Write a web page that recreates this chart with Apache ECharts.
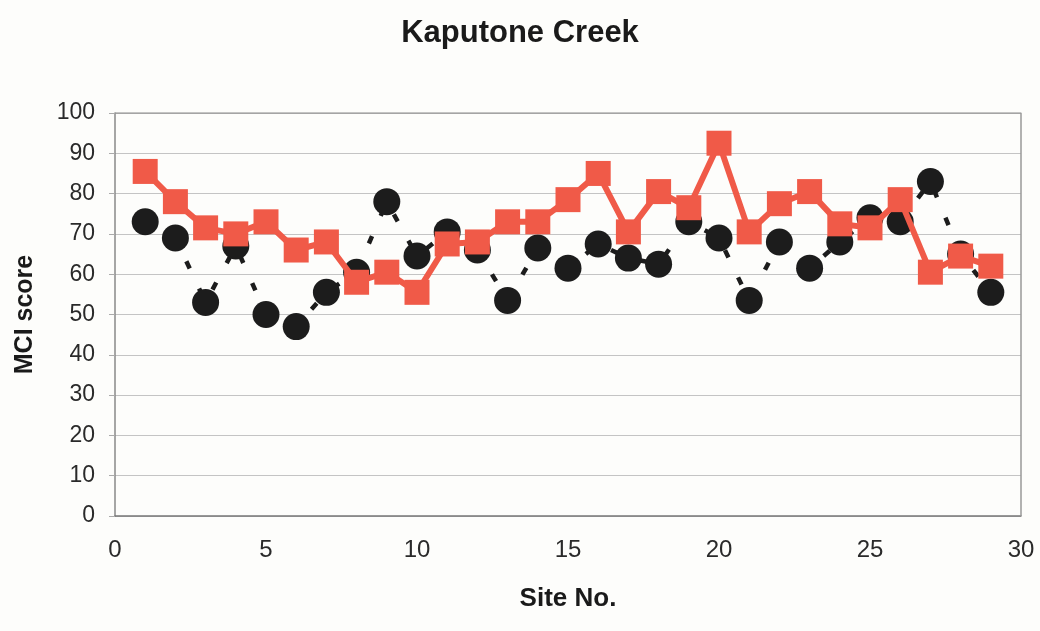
<!DOCTYPE html>
<html>
<head>
<meta charset="utf-8">
<title>Kaputone Creek</title>
<script src="https://cdn.jsdelivr.net/npm/echarts@6/dist/echarts.min.js"></script>
<style>
  html, body { margin: 0; padding: 0; background: #fdfdfb; }
  #chart { width: 1040px; height: 631px; }
</style>
</head>
<body>
<div id="chart"></div>
<script>
// Site numbers along the x axis
const sites = [1, 2, 3, 4, 5, 6, 7, 8, 9, 10, 11, 12, 13, 14, 15, 16, 17, 18, 19, 20, 21, 22, 23, 24, 25, 26, 27, 28, 29];
// MCI scores, black circle series (dashed)
const mciBlack = [73, 69, 53, 67, 50, 47, 55.5, 60.5, 78, 64.5, 70.5, 66, 53.5, 66.5, 61.5, 67.5, 64, 62.5, 73, 69, 53.5, 68, 61.5, 68, 74, 73, 83, 65, 55.5];
// MCI scores, red square series (solid)
const mciRed = [85.5, 78, 71.5, 70, 73, 66, 68, 58, 60.5, 55.5, 67.5, 68, 73, 73, 78.5, 85, 70.5, 80.5, 76.5, 92.5, 70.5, 77.5, 80.5, 72.5, 71.5, 78.5, 60.5, 64.5, 62];
// Axis tick settings
const xTicks = { min: 0, max: 30, interval: 5 };
const yTicks = { min: 0, max: 100, interval: 10 };

const pair = (vals) => sites.map((s, i) => [s, vals[i]]);
const font = '"Liberation Sans", Arial, sans-serif';

const chart = echarts.init(document.getElementById('chart'), null, { renderer: 'canvas' });
chart.setOption({
  backgroundColor: '#fdfdfb',
  animation: false,
  title: {
    text: 'Kaputone Creek',
    left: 'center',
    top: 13,
    textStyle: { fontFamily: font, fontSize: 31, fontWeight: 'bold', color: '#1a1a1a' }
  },
  grid: { left: 115, right: 19, top: 113, bottom: 115 },
  xAxis: {
    type: 'value',
    min: xTicks.min, max: xTicks.max, interval: xTicks.interval,
    name: 'Site No.',
    nameLocation: 'middle',
    nameGap: 70,
    nameTextStyle: { fontFamily: font, fontSize: 26, fontWeight: 'bold', color: '#1a1a1a' },
    axisLine: { show: true, onZero: false, lineStyle: { color: '#777', width: 1.5 } },
    axisTick: { show: false },
    axisLabel: { fontFamily: font, fontSize: 24, color: '#2a2a2a', margin: 22 },
    splitLine: { show: false }
  },
  yAxis: {
    type: 'value',
    min: yTicks.min, max: yTicks.max, interval: yTicks.interval,
    name: 'MCI score',
    nameLocation: 'middle',
    nameGap: 77,
    nameRotate: 90,
    nameTextStyle: { fontFamily: font, fontSize: 25, fontWeight: 'bold', color: '#1a1a1a' },
    axisLine: { show: true, lineStyle: { color: '#888', width: 1.5 } },
    axisTick: { show: true, length: 6, inside: false, lineStyle: { color: '#aaa' } },
    axisLabel: { fontFamily: font, fontSize: 23, color: '#2a2a2a', margin: 20 },
    splitLine: { show: true, lineStyle: { color: '#c4c4c4', width: 1 } }
  },
  series: [
    {
      name: 'black',
      type: 'line',
      data: pair(mciBlack),
      symbol: 'circle',
      symbolSize: 27,
      itemStyle: { color: '#1c1c1c' },
      lineStyle: { color: '#1c1c1c', width: 4.5, type: [8, 22] },
      z: 2
    },
    {
      name: 'red',
      type: 'line',
      data: pair(mciRed),
      symbol: 'rect',
      symbolSize: 25,
      itemStyle: { color: '#f05a48' },
      lineStyle: { color: '#f05a48', width: 6 },
      z: 3
    },
    {
      // right and top frame of the plot area
      type: 'line',
      data: [[xTicks.min, yTicks.max], [xTicks.max, yTicks.max], [xTicks.max, yTicks.min]],
      symbol: 'none',
      lineStyle: { color: '#999', width: 1.5 },
      silent: true,
      z: 1
    }
  ]
});
</script>
</body>
</html>
